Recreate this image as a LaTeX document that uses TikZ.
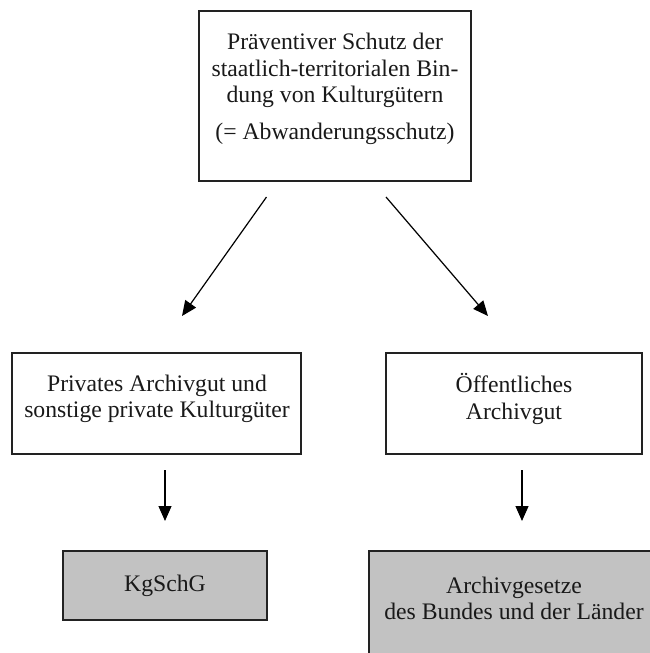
\documentclass[tikz,border=0pt]{standalone}
\usepackage{fontspec}
\setmainfont{Liberation Serif}
\usetikzlibrary{arrows.meta}

\definecolor{lawgray}{RGB}{194,194,194}
\definecolor{framecol}{RGB}{34,34,34}

\tikzset{every picture/.style={line width=1.2pt}}
\tikzset{
  box/.style={draw=framecol, line width=1.6pt, inner sep=0pt},
  lawbox/.style={box, fill=lawgray},
  txt/.style={align=center, inner sep=0pt, text=black!90,
    font=\fontsize{23.7pt}{26.5pt}\selectfont},
  link/.style={draw=black, -{Triangle[length=15pt,width=13pt]}}
}

\begin{document}
\begin{tikzpicture}[x=1pt,y=1pt,yscale=-1,xscale=1]
  \useasboundingbox (0,0) rectangle (650,653);
  \clip (0,0) rectangle (650,653);

  % top
  \node[box, minimum width=272pt, minimum height=170pt] (schutz) at (335,96) {};
  \node[txt] (schutz-t) at (335,89) {Präventiver Schutz der\\staatlich-territorialen Bin-\\dung von Kulturgütern\\[10pt](= Abwanderungsschutz)};

  % middle row
  \node[box, minimum width=289pt, minimum height=101pt] (privat) at (156.5,403.5) {};
  \node[txt] (privat-t) at (157,399) {Privates Archivgut und\\sonstige private Kulturgüter};
  \node[box, minimum width=256pt, minimum height=101pt] (oeffentlich) at (514,403.5) {};
  \node[txt] (oeffentlich-t) at (514,399) {Öffentliches\\Archivgut};

  % bottom row
  \node[lawbox, minimum width=204pt, minimum height=69pt] (kgschg) at (165,585.5) {};
  \node[txt] (kgschg-t) at (165,586) {KgSchG};
  \node[lawbox, minimum width=290pt, minimum height=130pt] (archivg) at (514,616) {};
  \node[txt] (archivg-t) at (514,598.5) {Archivgesetze\\des Bundes und der Länder};

  % arrow ends
  \coordinate (s1) at (266.5,197);
  \coordinate (e1) at (182,316);
  \coordinate (s2) at (386,197);
  \coordinate (e2) at (488,316);
  \coordinate (s3) at (165,470);
  \coordinate (e3) at (165,521);
  \coordinate (s4) at (522,470);
  \coordinate (e4) at (522,521);

  \draw[link] (s1) -- (e1);
  \draw[link] (s2) -- (e2);
  \draw[link] (s3) -- (e3);
  \draw[link] (s4) -- (e4);

\end{tikzpicture}
\end{document}
